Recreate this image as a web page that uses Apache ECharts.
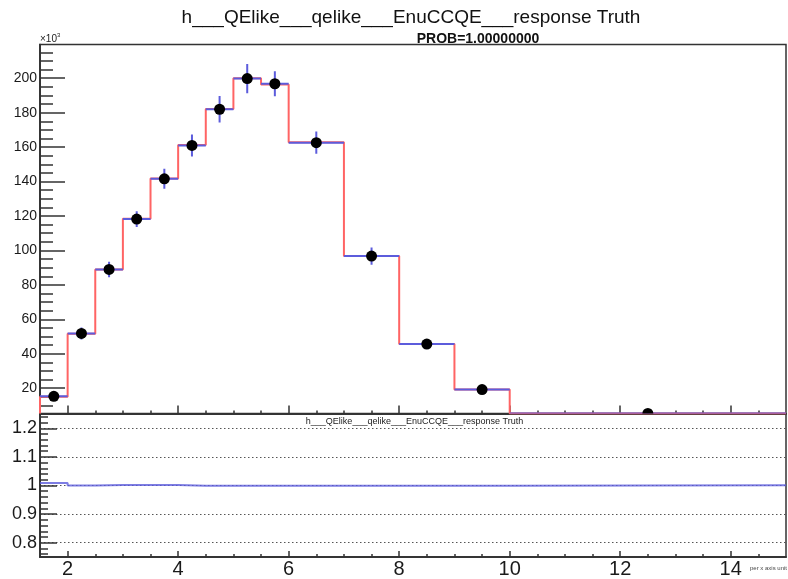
<!DOCTYPE html>
<html><head><meta charset="utf-8">
<script src="https://cdn.jsdelivr.net/npm/echarts@6/dist/echarts.min.js"></script>
<style>html,body{margin:0;padding:0;background:#fff}#c{width:788px;height:579px}</style>
</head><body><div id="c"></div>
<script>
// ---- data (top panel values in units of 10^3) ----
const binEdges    = [1.5, 2, 2.5, 3, 3.5, 4, 4.5, 5, 5.5, 6, 7, 8, 9, 10, 15];
const mcValues    = [15.0, 51.6, 89.0, 118.4, 141.8, 161.3, 182.2, 200.0, 196.4, 162.8, 96.8, 45.6, 19.3, 1.0];
const dataValues  = [15.3, 51.8, 89.0, 118.2, 141.6, 161.0, 182.0, 199.8, 196.8, 162.6, 96.7, 45.6, 19.2, 1.0];
const dataErrors  = [1.2, 3.5, 4.5, 4.6, 5.8, 6.4, 7.7, 8.5, 7.3, 6.5, 5.0, 2.5, 1.5, 0.5];
const ratioValues = [1.009, 1.000, 1.002, 1.002, 1.002, 0.999, 0.999, 0.999, 0.999, 0.999, 0.999, 0.999, 0.999, 1.001];

const xMajorTicks = [2, 4, 6, 8, 10, 12, 14];
const xMinorTicks = [2, 2.5, 3, 3.5, 4, 4.5, 5, 5.5, 6, 6.5, 7, 7.5, 8, 8.5, 9, 9.5, 10, 10.5, 11, 11.5, 12, 12.5, 13, 13.5, 14, 14.5];
const yMajorTicks = [20, 40, 60, 80, 100, 120, 140, 160, 180, 200];
const yMinorTicks = [10, 15, 25, 30, 35, 45, 50, 55, 65, 70, 75, 85, 90, 95, 105, 110, 115, 125, 130, 135, 145, 150, 155, 165, 170, 175, 185, 190, 195, 205, 210, 215];
const rMajorTicks = [0.8, 0.9, 1, 1.1, 1.2];
const rMinorTicks = [0.76, 0.78, 0.82, 0.84, 0.86, 0.88, 0.92, 0.94, 0.96, 0.98, 1.02, 1.04, 1.06, 1.08, 1.12, 1.14, 1.16, 1.18, 1.22, 1.24];

const titleText = 'h___QElike___qelike___EnuCCQE___response Truth';
const probText = 'PROB=1.00000000';
const xUnitText = 'per x axis unit';

// ---- ranges ----
const X_MIN = 1.5, X_MAX = 15;
const Y_MIN = 5.3, Y_MAX = 219.6;
const R_MIN = 0.75, R_MAX = 1.25;

const FONT = 'Liberation Sans, Arial, Helvetica, sans-serif';
const AX = '#333';
const RED = '#ff6464';
const BLUE = '#5c5cdc';

function clampY(v){ return Math.max(v, Y_MIN); }

// step outline (red histogram)
const redStep = [];
redStep.push([binEdges[0], Y_MIN]);
for (let i = 0; i < mcValues.length; i++) {
  redStep.push([binEdges[i], clampY(mcValues[i])]);
  redStep.push([binEdges[i+1], clampY(mcValues[i])]);
}
// blue horizontals
const blueBins = dataValues.map((v, i) => [binEdges[i], binEdges[i+1], clampY(v)]);
// points with errors
const points = dataValues.map((v, i) => [(binEdges[i] + binEdges[i+1]) / 2, clampY(v), dataErrors[i]]);
// ratio step
const ratioStep = [];
for (let i = 0; i < ratioValues.length; i++) {
  ratioStep.push([binEdges[i], ratioValues[i]]);
  ratioStep.push([binEdges[i+1], ratioValues[i]]);
}

function xAxisDef(gridIndex, ticks, len, labels) {
  return {
    type: 'value', gridIndex, min: X_MIN, max: X_MAX, position: 'bottom',
    axisLine: { show: true, onZero: false, lineStyle: { color: AX, width: 1.5 } },
    axisTick: { show: true, inside: true, length: len, customValues: ticks, lineStyle: { color: AX, width: 1.5 } },
    axisLabel: labels ? { show: true, customValues: labels, fontSize: 20, color: '#1a1a1a', fontFamily: FONT, margin: 2 } : { show: false },
    splitLine: { show: false }
  };
}
function yAxisDef(gridIndex, min, max, ticks, len, labels, fs, split) {
  return {
    type: 'value', gridIndex, min, max, position: 'left',
    axisLine: { show: true, onZero: false, lineStyle: { color: AX, width: 1.5 } },
    axisTick: { show: true, inside: true, length: len, customValues: ticks, lineStyle: { color: AX, width: 1.5 } },
    axisLabel: labels ? { show: true, customValues: labels, fontSize: fs, color: '#1a1a1a', fontFamily: FONT, margin: 3 } : { show: false },
    splitLine: split ? { show: true, lineStyle: { color: '#555', type: [1.5, 2.5], width: 1 } } : { show: false }
  };
}

const chart = echarts.init(document.getElementById('c'), null, { renderer: 'canvas' });
chart.setOption({
  animation: false,
  backgroundColor: '#fff',
  grid: [
    { left: 40, right: 2, top: 44.5, height: 369, show: true, borderColor: AX, borderWidth: 1.5 },
    { left: 40, right: 2, top: 414, bottom: 21, show: true, borderColor: AX, borderWidth: 1.5 }
  ],
  xAxis: [
    xAxisDef(0, xMajorTicks, 8, null),
    xAxisDef(0, xMinorTicks, 3, null),
    xAxisDef(1, xMajorTicks, 6, xMajorTicks),
    xAxisDef(1, xMinorTicks, 3, null)
  ],
  yAxis: [
    yAxisDef(0, Y_MIN, Y_MAX, yMajorTicks, 25, yMajorTicks, 14, false),
    yAxisDef(0, Y_MIN, Y_MAX, yMinorTicks, 13, null, 14, false),
    yAxisDef(1, R_MIN, R_MAX, rMajorTicks, 17, rMajorTicks, 18, true),
    yAxisDef(1, R_MIN, R_MAX, rMinorTicks, 8, null, 18, false)
  ],
  series: [
    {
      type: 'line', xAxisIndex: 0, yAxisIndex: 0, data: redStep,
      showSymbol: false, symbol: 'none', lineStyle: { color: RED, width: 2 }, z: 2, silent: true
    },
    {
      type: 'custom', xAxisIndex: 0, yAxisIndex: 0, data: blueBins, clip: true, z: 3, silent: true,
      encode: { x: [0, 1], y: 2 },
      renderItem: function (params, api) {
        const a = api.coord([api.value(0), api.value(2)]);
        const b = api.coord([api.value(1), api.value(2)]);
        return { type: 'line', shape: { x1: a[0], y1: a[1], x2: b[0], y2: b[1] }, style: { stroke: BLUE, lineWidth: 2 } };
      }
    },
    {
      type: 'custom', xAxisIndex: 0, yAxisIndex: 0, data: points, clip: true, z: 4, silent: true,
      encode: { x: 0, y: 1 },
      renderItem: function (params, api) {
        const x = api.value(0), y = api.value(1), e = api.value(2);
        const c = api.coord([x, y]);
        const top = api.coord([x, y + e]);
        const bot = api.coord([x, Math.max(y - e, Y_MIN)]);
        return {
          type: 'group',
          children: [
            { type: 'line', shape: { x1: c[0], y1: top[1], x2: c[0], y2: bot[1] }, style: { stroke: BLUE, lineWidth: 2 } },
            { type: 'circle', shape: { cx: c[0], cy: c[1], r: 5.5 }, style: { fill: '#000' } }
          ]
        };
      }
    },
    {
      type: 'line', xAxisIndex: 2, yAxisIndex: 2, data: ratioStep,
      showSymbol: false, symbol: 'none', lineStyle: { color: BLUE, width: 2, opacity: 0.8 }, z: 3, silent: true
    }
  ],
  graphic: [
    { type: 'text', x: 411, y: 18, style: { text: titleText, fontSize: 19, fontFamily: FONT, fill: '#111', align: 'center', verticalAlign: 'middle' } },
    { type: 'text', x: 478, y: 39, style: { text: probText, fontSize: 14, fontWeight: 'bold', fontFamily: FONT, fill: '#111', align: 'center', verticalAlign: 'middle' } },
    { type: 'text', x: 40, y: 39, style: { text: '×10', fontSize: 10, fontFamily: FONT, fill: '#222', align: 'left', verticalAlign: 'middle' } },
    { type: 'text', x: 57, y: 35, style: { text: '3', fontSize: 6, fontFamily: FONT, fill: '#222', align: 'left', verticalAlign: 'middle' } },
    { type: 'text', x: 414.5, y: 421.5, style: { text: titleText, fontSize: 9, fontFamily: FONT, fill: '#222', align: 'center', verticalAlign: 'middle' } },
    { type: 'text', x: 787, y: 568, style: { text: xUnitText, fontSize: 6, fontFamily: FONT, fill: '#444', align: 'right', verticalAlign: 'middle' } }
  ]
});
</script>
</body></html>
